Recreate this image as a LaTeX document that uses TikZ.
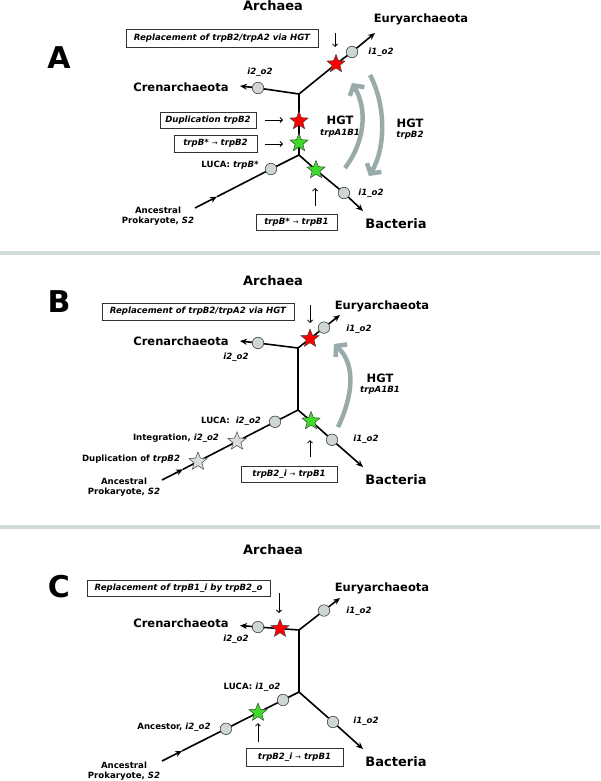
\documentclass[tikz,border=0pt]{standalone}
\usepackage{fontspec}
\setmainfont{DejaVu Sans}
\usetikzlibrary{arrows.meta,shapes.geometric,backgrounds}
\definecolor{hgt}{RGB}{152,170,170}
\definecolor{sepc}{RGB}{208,220,220}
\definecolor{circfill}{RGB}{206,214,214}
\definecolor{starred}{RGB}{255,0,0}
\definecolor{stargreen}{RGB}{60,220,40}
\definecolor{stargrey}{RGB}{218,222,222}
\begin{document}
\begin{tikzpicture}[x=1pt,y=-1pt,
  branch/.style={line width=1.6pt,black},
  tipb/.style={-{Stealth[length=7pt,width=6pt]}},
  circ/.style={circle,draw=black!75,fill=circfill,line width=0.6pt,minimum size=11.5pt,inner sep=0pt},
  starbase/.style={star,star points=5,star point ratio=2.3,draw=black!75,line width=0.5pt,minimum size=19pt,inner sep=0pt},
  rstar/.style={starbase,fill=starred},
  gstar/.style={starbase,fill=stargreen},
  wstar/.style={starbase,fill=stargrey},
  annot/.style={line width=0.8pt,-{Straight Barb[length=2.5pt,width=5pt]}},
  evbox/.style={draw=black!80,line width=0.6pt,fill=white,inner sep=0pt,font=\bfseries\itshape\fontsize{8.6}{10}\selectfont},
  lettr/.style={font=\bfseries\fontsize{30}{32}\selectfont},
  big/.style={font=\bfseries\fontsize{13}{15}\selectfont},
  clade/.style={font=\bfseries\fontsize{11.5}{13}\selectfont},
  small/.style={font=\bfseries\fontsize{8.6}{10}\selectfont,align=center},
  smallit/.style={font=\bfseries\itshape\fontsize{8.6}{10}\selectfont},
  hgtlab/.style={font=\bfseries\fontsize{11.5}{13}\selectfont},
  hgtarr/.style={draw=hgt,line width=4.5pt,-{Straight Barb[length=7pt,width=17pt]}},
  sep/.style={draw=sepc,line width=4pt}
]
\useasboundingbox (0,0) rectangle (600,781);

% separators
\coordinate (s1l) at (0,252.5); \coordinate (s1r) at (600,252.5);
\coordinate (s2l) at (0,526.5); \coordinate (s2r) at (600,526.5);
\draw[sep] (s1l) -- (s1r);
\draw[sep] (s2l) -- (s2r);

%%%%%%%%%%%%%%%% PANEL A
\node[lettr] (LA) at (59,58) {A};
\node[big] (archA) at (273,6) {Archaea};
\node[evbox,minimum width=192pt,minimum height=18pt] (bA1) at (222,38) {Replacement of trpB2/trpA2 via HGT};
\node[clade] (euA) at (421,19) {Euryarchaeota};
\node[smallit] (lA1) at (381,52) {i1\_o2};
\node[clade] (crA) at (181,87) {Crenarchaeota};
\node[smallit] (lA2) at (260,72) {i2\_o2};
\node[evbox,minimum width=96pt,minimum height=16pt] (bA2) at (208,120) {Duplication trpB2};
\node[evbox,minimum width=83pt,minimum height=17pt] (bA3) at (215.5,143.5) {trpB* {\normalfont\upshape\fontsize{7}{8}\selectfont →} trpB2};
\node[small] (lA3) at (230,165) {LUCA: \textit{trpB*}};
\node[small] (lA4) at (158,216) {Ancestral\\Prokaryote, \textit{S2}};
\node[smallit] (lA5) at (371,193) {i1\_o2};
\node[big] (baA) at (396,224) {Bacteria};
\node[evbox,minimum width=81pt,minimum height=16pt] (bA4) at (296.5,222) {trpB* {\normalfont\upshape\fontsize{7}{8}\selectfont →} trpB1};
\node[hgtlab] (hA1) at (340,120) {HGT};
\node[smallit] (hA1s) at (340,133) {trpA1B1};
\node[hgtlab] (hA2) at (410,123) {HGT};
\node[smallit] (hA2s) at (410,135) {trpB2};

\coordinate (jA1) at (299,94);
\coordinate (jA2) at (299,155);
\node[circ] (cA1) at (352,52) {};
\node[rstar] (sA1) at (336,64) {};
\coordinate (tA1) at (375,33);
\node[circ] (cA2) at (258,88) {};
\coordinate (tA2) at (240,86);
\node[rstar] (sA2) at (299,121) {};
\node[gstar] (sA3) at (299,143) {};
\node[gstar] (sA4) at (316,170) {};
\node[circ] (cA3) at (344,193) {};
\coordinate (tA3) at (363,211);
\node[circ] (cA4) at (271,169) {};
\coordinate (mA) at (217,196.7);
\coordinate (oA) at (195,208);

\coordinate (aA1s) at (335,33); \coordinate (aA1e) at (335,47);
\coordinate (aA2s) at (265,120); \coordinate (aA2e) at (283,120);
\coordinate (aA3s) at (265,144); \coordinate (aA3e) at (283,144);
\coordinate (aA4s) at (315,206); \coordinate (aA4e) at (315,188);
\coordinate (hgA1s) at (345,168); \coordinate (hgA1e) at (352,83);
\coordinate (hgA2s) at (370,75); \coordinate (hgA2e) at (369,176);

\begin{scope}[on background layer]
\draw[branch] (jA1) -- (sA1.center) -- (cA1.center);
\draw[branch,tipb] (cA1.center) -- (tA1);
\draw[branch] (jA1) -- (cA2.center);
\draw[branch,tipb] (cA2.center) -- (tA2);
\draw[branch] (jA1) -- (sA2.center) -- (sA3.center) -- (jA2);
\draw[branch] (jA2) -- (sA4.center) -- (cA3.center);
\draw[branch,tipb] (cA3.center) -- (tA3);
\draw[branch] (jA2) -- (cA4.center) -- (mA);
\draw[branch,tipb] (oA) -- (mA);
\end{scope}
\draw[annot] (aA1s) -- (aA1e);
\draw[annot] (aA2s) -- (aA2e);
\draw[annot] (aA3s) -- (aA3e);
\draw[annot] (aA4s) -- (aA4e);
\draw[hgtarr] (hgA1s) .. controls (366,140) and (367,108) .. (hgA1e);
\draw[hgtarr] (hgA2s) .. controls (386,105) and (386,148) .. (hgA2e);

%%%%%%%%%%%%%%%% PANEL B
\node[lettr] (LB) at (59,302) {B};
\node[big] (archB) at (273,281) {Archaea};
\node[evbox,minimum width=192pt,minimum height=17pt] (bB1) at (198,311.5) {Replacement of trpB2/trpA2 via HGT};
\node[clade] (euB) at (382,306) {Euryarchaeota};
\node[smallit] (lB1) at (359,329) {i1\_o2};
\node[clade] (crB) at (181,341) {Crenarchaeota};
\node[smallit] (lB2) at (236,357) {i2\_o2};
\node[smallit] (lB3) at (366,439) {i1\_o2};
\node[big] (baB) at (396,480) {Bacteria};
\node[evbox,minimum width=96pt,minimum height=16pt] (bB2) at (289,474) {trpB2\_i {\normalfont\upshape\fontsize{7}{8}\selectfont →} trpB1};
\node[small] (lB4) at (231,421) {LUCA:\ \ \textit{i2\_o2}};
\node[small] (lB5) at (176,438) {Integration, \textit{i2\_o2}};
\node[small] (lB6) at (131,459) {Duplication of \textit{trpB2}};
\node[small] (lB7) at (124,487) {Ancestral\\Prokaryote, \textit{S2}};
\node[hgtlab] (hB1) at (380,378) {HGT};
\node[smallit] (hB1s) at (380,390) {trpA1B1};

\coordinate (jB1) at (298,348);
\coordinate (jB2) at (298,410);
\node[circ] (cB1) at (324,327.6) {};
\node[rstar] (sB1) at (310,338.6) {};
\coordinate (tB1) at (340,315);
\node[circ] (cB2) at (258,343) {};
\coordinate (tB2) at (240,341);
\node[gstar] (sB2) at (311,421) {};
\node[circ] (cB3) at (332,439.8) {};
\coordinate (tB3) at (363,467);
\node[circ] (cB4) at (275,421.8) {};
\node[wstar] (sB3) at (237,441.4) {};
\node[wstar] (sB4) at (198,461.5) {};
\coordinate (mB) at (183,469.3);
\coordinate (oB) at (162,480);

\coordinate (aB1s) at (310,305); \coordinate (aB1e) at (310,323);
\coordinate (aB2s) at (310,457); \coordinate (aB2e) at (310,440);
\coordinate (hgB1s) at (338,427); \coordinate (hgB1e) at (334,344);

\begin{scope}[on background layer]
\draw[branch] (jB1) -- (sB1.center) -- (cB1.center);
\draw[branch,tipb] (cB1.center) -- (tB1);
\draw[branch] (jB1) -- (cB2.center);
\draw[branch,tipb] (cB2.center) -- (tB2);
\draw[branch] (jB1) -- (jB2);
\draw[branch] (jB2) -- (sB2.center) -- (cB3.center);
\draw[branch,tipb] (cB3.center) -- (tB3);
\draw[branch] (jB2) -- (cB4.center) -- (sB3.center) -- (sB4.center) -- (mB);
\draw[branch,tipb] (oB) -- (mB);
\end{scope}
\draw[annot] (aB1s) -- (aB1e);
\draw[annot] (aB2s) -- (aB2e);
\draw[hgtarr] (hgB1s) .. controls (352,398) and (357,365) .. (hgB1e);

%%%%%%%%%%%%%%%% PANEL C
\node[lettr] (LC) at (59,587) {C};
\node[big] (archC) at (273,550) {Archaea};
\node[evbox,minimum width=183pt,minimum height=16pt] (bC1) at (178.5,588) {Replacement of trpB1\_i by trpB2\_o};
\node[clade] (euC) at (382,588) {Euryarchaeota};
\node[smallit] (lC1) at (359,611) {i1\_o2};
\node[clade] (crC) at (181,623) {Crenarchaeota};
\node[smallit] (lC2) at (236,639) {i2\_o2};
\node[smallit] (lC3) at (366,721) {i1\_o2};
\node[big] (baC) at (396,762) {Bacteria};
\node[evbox,minimum width=97pt,minimum height=18pt] (bC2) at (294.5,757) {trpB2\_i {\normalfont\upshape\fontsize{7}{8}\selectfont →} trpB1};
\node[small] (lC4) at (252,687) {LUCA: \textit{i1\_o2}};
\node[small] (lC5) at (174,727) {Ancestor, \textit{i2\_o2}};
\node[small] (lC6) at (124,771) {Ancestral\\Prokaryote, \textit{S2}};

\coordinate (jC1) at (299,630);
\coordinate (jC2) at (299,692);
\node[circ] (cC1) at (324,610.5) {};
\coordinate (tC1) at (340,598);
\node[rstar] (sC1) at (280,628.6) {};
\node[circ] (cC2) at (258,627) {};
\coordinate (tC2) at (240,625.5);
\node[circ] (cC3) at (333,722) {};
\coordinate (tC3) at (363,749);
\node[circ] (cC4) at (283,700) {};
\node[gstar] (sC2) at (258,712.6) {};
\node[circ] (cC5) at (226,728.8) {};
\coordinate (mC) at (182,750.9);
\coordinate (oC) at (162,761);

\coordinate (aC1s) at (279,593); \coordinate (aC1e) at (279,613);
\coordinate (aC2s) at (258,742); \coordinate (aC2e) at (258,723);

\begin{scope}[on background layer]
\draw[branch] (jC1) -- (cC1.center);
\draw[branch,tipb] (cC1.center) -- (tC1);
\draw[branch] (jC1) -- (sC1.center) -- (cC2.center);
\draw[branch,tipb] (cC2.center) -- (tC2);
\draw[branch] (jC1) -- (jC2);
\draw[branch] (jC2) -- (cC3.center);
\draw[branch,tipb] (cC3.center) -- (tC3);
\draw[branch] (jC2) -- (cC4.center) -- (sC2.center) -- (cC5.center) -- (mC);
\draw[branch,tipb] (oC) -- (mC);
\end{scope}
\draw[annot] (aC1s) -- (aC1e);
\draw[annot] (aC2s) -- (aC2e);
\end{tikzpicture}
\end{document}
